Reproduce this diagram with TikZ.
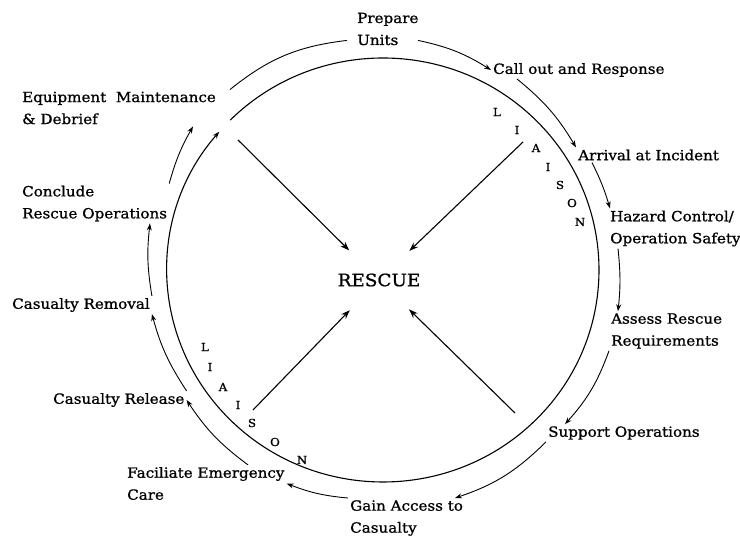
\documentclass[tikz,border=0pt]{standalone}
\usepackage{fontspec}
\setmainfont{DejaVu Serif}[FakeStretch=1.08, FakeBold=1]
\usetikzlibrary{arrows.meta,calc}

\begin{document}
\begin{tikzpicture}[x=1pt, y=1pt,
  stage/.style={
    anchor=west, align=left, inner sep=2pt, font=\fontsize{14}{22}\selectfont
  },
  flow/.style={
    -{Stealth[length=7pt,width=5pt]}, line width=0.9pt
  },
  spoke/.style={
    -{Stealth[length=9pt,width=6.5pt]}, line width=1.1pt
  },
  letter/.style={
    inner sep=0pt, font=\fontsize{11}{12}\selectfont
  },
  hub/.style={
    circle, inner sep=0pt, font=\fontsize{17}{20}\selectfont
  }
]
\useasboundingbox (0,0) rectangle (740,540);

% Centre and ring
\coordinate (mid) at (383,270);
\node[hub] (rescue) at (379,260) {RESCUE};
\draw[flow, line width=1.1pt] (mid) ++(135:216 and 212)
  arc[start angle=135, end angle=-220.7, x radius=216, y radius=212];

% Stages
\node[stage] (units) at (355,511) {Prepare\\Units};
\node[stage] (callout) at (491,470) {Call out and Response};
\node[stage] (arrival) at (576,385) {Arrival at Incident};
\node[stage] (hazard) at (608,311.5) {Hazard Control/\\Operation Safety};
\node[stage] (assess) at (609,209) {Assess Rescue\\Requirements};
\node[stage] (support) at (546,107) {Support Operations};
\node[stage] (gain) at (348,22) {Gain Access to\\Casualty};
\node[stage] (facil) at (125,56.5) {Faciliate Emergency\\Care};
\node[stage] (release) at (51,140) {Casualty Release};
\node[stage] (removal) at (10,235) {Casualty Removal};
\node[stage] (conclude) at (20,336.5) {Conclude\\Rescue Operations};
\node[stage] (maint) at (20,432) {Equipment\ \ Maintenance\\\& Debrief};

% LIAISON
\foreach \ch/\px/\py [count=\i] in {L/497/428, I/517/410, A/536/392, I/548/373, S/560/355, O/572/337, N/580/318}
  \node[letter] (up\i) at (\px,\py) {\ch};
\foreach \ch/\px/\py [count=\i] in {L/205/193, I/210/173, A/223/153, I/238/135, S/252/117, O/275/98, N/302/80}
  \node[letter] (lo\i) at (\px,\py) {\ch};

% Cycle
\draw[flow, -] ([xshift=210pt]maint.north west) to[bend left=16] ([shift={(-8pt,7pt)}]units.south west);
\draw[flow] ([shift={(63pt,7pt)}]units.south west) to[bend left=10] (callout.west);
\draw[flow] ([xshift=26pt]callout.south west) to[bend left=10] (arrival.north west);
\draw[flow] ([xshift=16pt]arrival.south west) to[bend left=5] ([xshift=2pt]hazard.north west);
\draw[flow] ([xshift=10pt]hazard.south west) to[bend left=6] ([xshift=9pt]assess.north west);
\draw[flow] (assess.south west) to[bend left=11] ([xshift=19pt]support.north west);
\draw[flow] (support.south west) to[bend left=13] ([xshift=107pt]gain.north west);
\draw[flow] (gain.north west) to[bend left=8] (facil.east);
\draw[flow] ([xshift=123pt]facil.north west) to[bend left=10] (release.east);
\draw[flow] (release.north east) to[bend left=9] (removal.south east);
\draw[flow] (removal.north east) to[bend left=8] ([xshift=130pt]conclude.south west);
\draw[flow] (conclude.north east) to[bend left=7] ([xshift=173pt]maint.south west);

% Spokes
\coordinate (nw) at (238,400);
\coordinate (ne) at (523,398);
\coordinate (sw) at (253,130);
\coordinate (se) at (515,127);
\draw[spoke] (nw) -- (rescue);
\draw[spoke] (ne) -- (rescue);
\draw[spoke] (sw) -- (rescue);
\draw[spoke] (se) -- (rescue);

\end{tikzpicture}
\end{document}
